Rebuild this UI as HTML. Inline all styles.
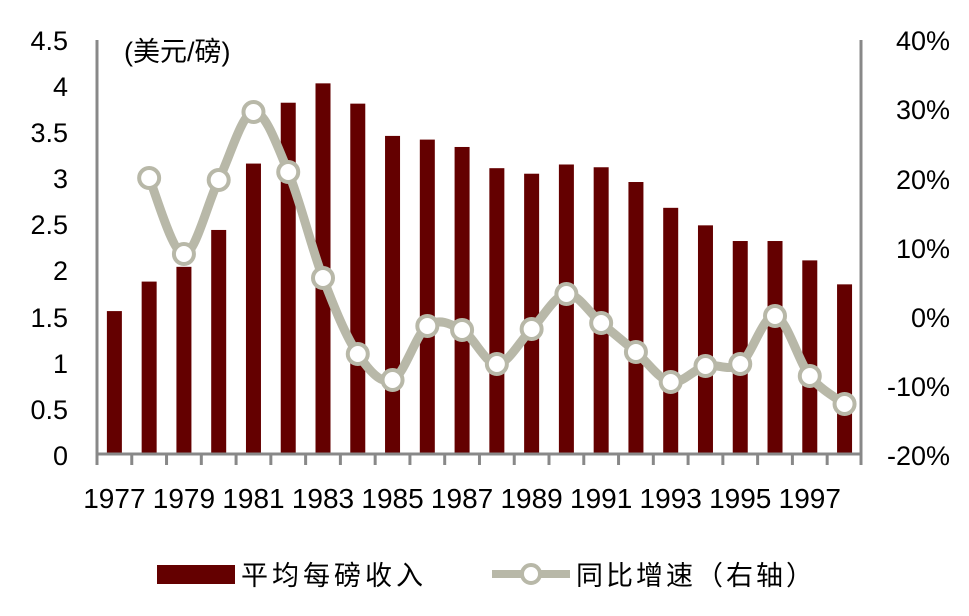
<!DOCTYPE html>
<html><head><meta charset="utf-8"><style>body{margin:0;background:#fff}</style></head><body>
<svg width="969" height="611" viewBox="0 0 969 611" xmlns="http://www.w3.org/2000/svg" font-family="Liberation Sans, Noto Sans CJK SC, sans-serif">
<g id="bars" fill="#640000"></g>
<line x1="97" y1="40" x2="97" y2="464" stroke="#888" stroke-width="3"/>
<line x1="861" y1="40" x2="861" y2="464" stroke="#888" stroke-width="3"/>
<line x1="96" y1="454" x2="862" y2="454" stroke="#888" stroke-width="3"/>
<g id="ticks" stroke="#888" stroke-width="3"></g>
<path id="ln" fill="none" stroke="#b8b8a8" stroke-width="9" stroke-linejoin="round"/>
<g id="dots" fill="#fff" stroke="#b8b8a8" stroke-width="4"></g>
<g font-size="27" fill="#000" text-anchor="end">
<text x="68" y="50">4.5</text><text x="68" y="96">4</text><text x="68" y="142">3.5</text><text x="68" y="188">3</text><text x="68" y="234">2.5</text><text x="68" y="280">2</text><text x="68" y="327">1.5</text><text x="68" y="373">1</text><text x="68" y="419">0.5</text><text x="68" y="465">0</text>
</g>
<g font-size="27" fill="#000" text-anchor="end">
<text x="950" y="50">40%</text><text x="950" y="119">30%</text><text x="950" y="189">20%</text><text x="950" y="258">10%</text><text x="950" y="327">0%</text><text x="950" y="396">-10%</text><text x="950" y="465">-20%</text>
</g>
<text x="124" y="61" font-size="27">(美元/磅)</text>
<g id="xl" font-size="28" text-anchor="middle"></g>
<rect x="157" y="565" width="78" height="19" fill="#640000"/>
<text x="241" y="585" font-size="27" letter-spacing="4">平均每磅收入</text>
<line x1="492" y1="574" x2="570" y2="574" stroke="#b8b8a8" stroke-width="8"/>
<circle cx="531" cy="574" r="9" fill="#fff" stroke="#b8b8a8" stroke-width="4"/>
<text x="576" y="585" font-size="27" letter-spacing="3">同比增速（右轴）</text>
</svg>
<script>
var v=[1.55,1.87,2.03,2.43,3.15,3.81,4.02,3.80,3.45,3.41,3.33,3.10,3.04,3.14,3.11,2.95,2.67,2.48,2.31,2.31,2.10,1.84];
var ly=[178,254,180,112,172,278,354,380,326,330,364,329,294,323,352,382,366,364,316,376,404];
var s=34.77,b='',t='',d='',P=[],x='';
for(var i=0;i<22;i++){var c=97+s*(i+0.5),h=v[i]*92.2;
b+='<rect x="'+(c-7.5)+'" y="'+(454-h)+'" width="15" height="'+h+'"/>';
t+='<line x1="'+(97+s*i)+'" y1="454" x2="'+(97+s*i)+'" y2="465"/>';
if(i%2==0)x+='<text x="'+c+'" y="508">'+(1977+i)+'</text>';
if(i>0){P.push([c,ly[i-1]]);d+='<circle cx="'+c+'" cy="'+ly[i-1]+'" r="10"/>';}}
t+='<line x1="861" y1="454" x2="861" y2="465"/>';
var p='M'+P[0][0]+','+P[0][1];
for(var k=0;k<P.length-1;k++){var p0=P[k-1]||P[k],p1=P[k],p2=P[k+1],p3=P[k+2]||p2,f=1/6;
p+=' C'+(p1[0]+(p2[0]-p0[0])*f)+','+(p1[1]+(p2[1]-p0[1])*f)+' '+(p2[0]-(p3[0]-p1[0])*f)+','+(p2[1]-(p3[1]-p1[1])*f)+' '+p2[0]+','+p2[1];}
document.getElementById('bars').innerHTML=b;document.getElementById('ticks').innerHTML=t;
document.getElementById('dots').innerHTML=d;document.getElementById('xl').innerHTML=x;
document.getElementById('ln').setAttribute('d',p);
</script>
</body></html>
